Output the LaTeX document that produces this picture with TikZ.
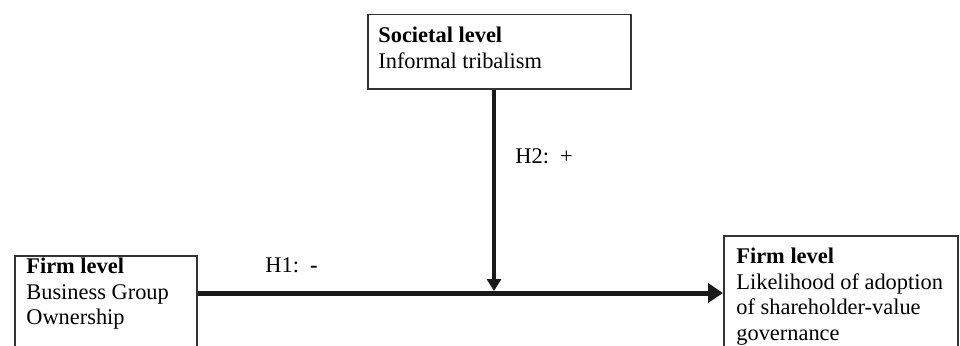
\documentclass[tikz,border=0pt]{standalone}
\usepackage{fontspec}
\setmainfont{Liberation Serif}
\usetikzlibrary{arrows.meta}

\tikzset{every picture/.style={line width=0.75pt}}
\tikzset{
  levelbox/.style={draw={rgb,255:red,51;green,51;blue,51}, line width=1.5pt, inner sep=0pt, anchor=north west},
  leveltext/.style={anchor=north west, inner sep=0pt, align=left, font=\fontsize{22.4}{25.6}\selectfont},
  hyptext/.style={anchor=base west, inner sep=0pt, font=\fontsize{22.4}{25.6}\selectfont},
  effect/.style={color={rgb,255:red,26;green,26;blue,26}},
}

\begin{document}
\begin{tikzpicture}[x=1pt,y=1pt,yscale=-1,xscale=1]
\useasboundingbox (0,0) rectangle (960,345);
\clip (0,0) rectangle (960,345);

%Boxes
\node[levelbox, minimum width=263pt, minimum height=74pt] (societal) at (367,14) {};
\node[levelbox, minimum width=182pt, minimum height=130pt] (ownership) at (14,255) {};
\node[levelbox, minimum width=234pt, minimum height=150pt] (adoption) at (723,235) {};

% Text Node
\node[leveltext] (societaltxt) at (378,26.5) {\textbf{Societal level}\\Informal tribalism};
% Text Node
\node[leveltext] (ownershiptxt) at (26,257.5) {\textbf{Firm level}\\Business Group\\Ownership};
% Text Node
\node[leveltext] (adoptiontxt) at (736,247.5) {\textbf{Firm level}\\Likelihood of adoption\\of shareholder-value\\governance};

% Text Node
\node[hyptext] (h2) at (515,163) {H2:\ \ +};
% Text Node
\node[hyptext] (h1) at (265,272) {H1:\ \ \textbf{-}};

%Straight Lines
\coordinate (hline) at (0,293);
\coordinate (meet) at (494,291);
\draw[effect, line width=5pt, -{Triangle[length=15pt,width=19pt]}] (ownership.east |- hline) -- (adoption.west |- hline);
%Straight Lines
\draw[effect, line width=4pt, -{Triangle[length=12pt,width=14pt]}] (meet |- societal.south) -- (meet);

\end{tikzpicture}
\end{document}
